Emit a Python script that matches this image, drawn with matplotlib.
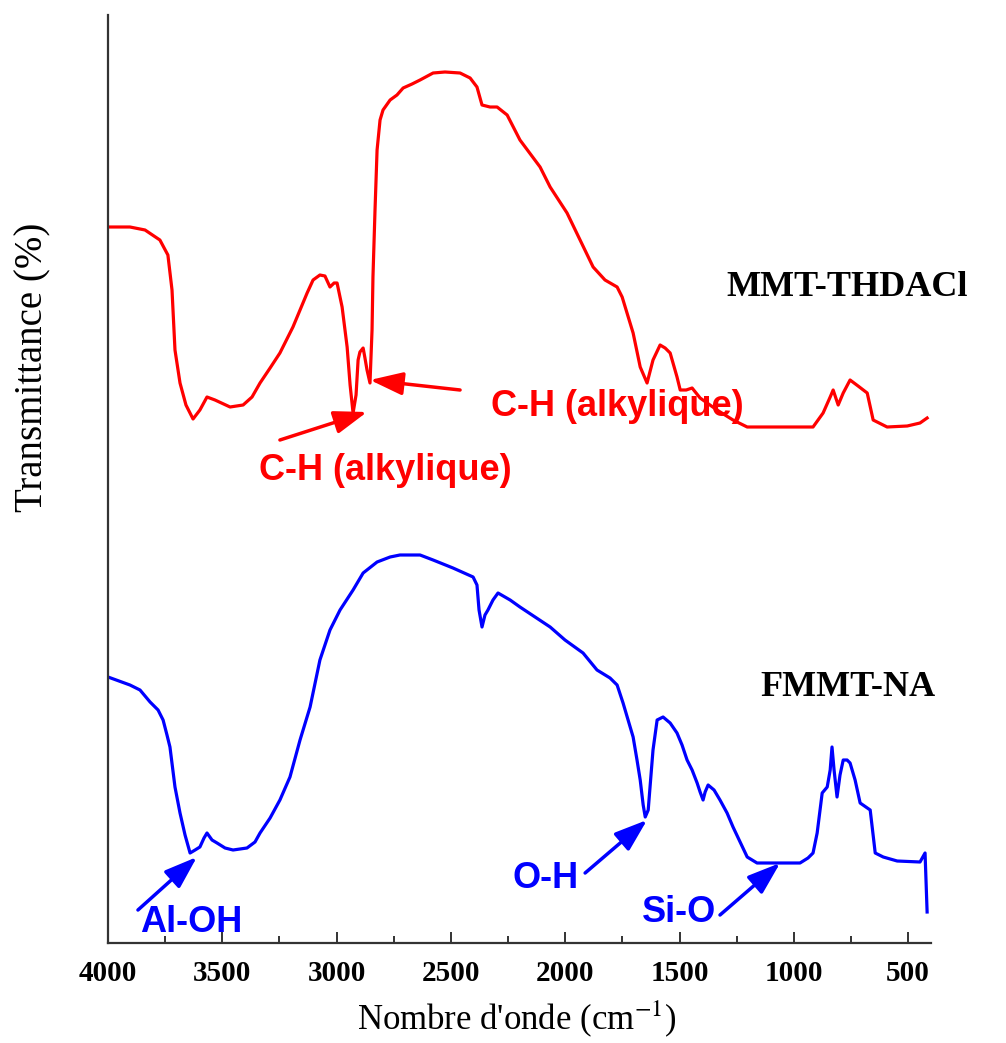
import matplotlib
matplotlib.use("Agg")
import matplotlib.pyplot as plt
from matplotlib.ticker import MultipleLocator

plt.rcParams['mathtext.fontset'] = 'stix'

# ---- data: MMT-THDACl (red) ----
wn_thdacl = [4000, 3904, 3838, 3773, 3738, 3720, 3707, 3685, 3659, 3628, 3598, 3567, 3532, 3466,
             3409, 3370, 3335, 3291, 3248, 3191, 3160, 3129, 3103, 3073, 3051, 3029, 3011, 2998,
             2976, 2954, 2941, 2928, 2915, 2906, 2898, 2884, 2876, 2867, 2854, 2845, 2841, 2832,
             2823, 2810, 2797, 2766, 2736, 2709, 2670, 2635, 2578, 2526, 2460, 2416, 2386, 2364,
             2329, 2298, 2254, 2198, 2110, 2066, 1992, 1935, 1878, 1826, 1773, 1751, 1703, 1672,
             1642, 1616, 1585, 1563, 1541, 1511, 1497, 1471, 1445, 1410, 1336, 1266, 1204, 1060,
             916, 872, 841, 828, 806, 784, 754, 719, 679, 653, 592, 504, 448, 417]
t_thdacl = [71.6, 71.6, 71.3, 70.3, 68.8, 65.3, 59.3, 56.0, 53.8, 52.4, 53.3, 54.6, 54.3, 53.6,
            53.8, 54.6, 56.0, 57.5, 59.0, 61.6, 63.3, 65.0, 66.3, 66.8, 66.7, 65.6, 66.0, 66.0,
            63.6, 59.6, 55.8, 53.0, 54.8, 58.3, 59.1, 59.5, 58.5, 57.3, 56.0, 61.3, 66.6, 73.3,
            79.3, 82.3, 83.3, 84.3, 84.8, 85.5, 85.9, 86.3, 87.0, 87.1, 87.0, 86.5, 85.6, 83.8,
            83.6, 83.6, 82.8, 80.3, 77.6, 75.6, 73.0, 70.3, 67.6, 66.3, 65.6, 64.6, 61.0, 57.6,
            56.0, 58.3, 59.8, 59.5, 59.0, 56.6, 55.3, 55.3, 55.5, 54.5, 53.3, 52.3, 51.6, 51.6,
            51.6, 53.0, 54.6, 55.3, 53.8, 55.0, 56.3, 55.7, 55.0, 52.3, 51.6, 51.7, 52.0, 52.5]

# ---- data: FMMT-NA (blue) ----
wn_na = [4000, 3904, 3860, 3816, 3781, 3759, 3742, 3729, 3707, 3685, 3663, 3641, 3619, 3598,
         3580, 3567, 3545, 3523, 3488, 3453, 3392, 3357, 3335, 3291, 3248, 3204, 3160, 3116,
         3073, 3029, 2985, 2928, 2884, 2823, 2766, 2723, 2635, 2578, 2491, 2403, 2386, 2377,
         2364, 2351, 2338, 2316, 2294, 2241, 2198, 2132, 2066, 2001, 1922, 1861, 1804, 1773,
         1747, 1725, 1703, 1686, 1672, 1659, 1650, 1637, 1629, 1616, 1598, 1572, 1541, 1511,
         1489, 1467, 1445, 1423, 1410, 1397, 1388, 1375, 1349, 1323, 1292, 1266, 1235, 1204,
         1161, 1060, 973, 938, 916, 898, 876, 854, 841, 833, 824, 811, 798, 784, 767, 754,
         732, 710, 666, 644, 609, 548, 448, 426, 417]
t_na = [26.6, 25.8, 25.3, 24.1, 23.3, 22.3, 20.8, 19.6, 15.6, 13.0, 10.8, 9.0, 9.3, 9.6,
        10.5, 11.0, 10.3, 10.0, 9.5, 9.3, 9.5, 10.1, 11.0, 12.5, 14.3, 16.6, 20.3, 23.6,
        28.3, 31.3, 33.3, 35.3, 37.0, 38.1, 38.6, 38.8, 38.8, 38.3, 37.5, 36.6, 35.8, 33.3,
        31.6, 32.8, 33.3, 34.3, 35.0, 34.3, 33.6, 32.6, 31.6, 30.3, 29.0, 27.3, 26.5, 25.8,
        24.0, 22.3, 20.6, 18.3, 16.3, 13.8, 12.6, 13.3, 15.6, 19.3, 22.3, 22.6, 22.0, 21.0,
        19.8, 18.3, 17.3, 16.0, 15.1, 14.3, 15.1, 15.8, 15.3, 14.3, 13.0, 11.6, 10.1, 8.6,
        8.0, 8.0, 8.0, 8.5, 9.0, 11.0, 15.0, 15.6, 17.3, 19.6, 17.3, 14.6, 16.8, 18.3, 18.3,
        18.0, 16.3, 14.0, 13.3, 9.0, 8.6, 8.2, 8.1, 9.0, 3.1]

series_names = ["MMT-THDACl", "FMMT-NA"]
series_label_pos = [(767, 65.6), (763, 25.5)]

# annotations: (text, text position (wn, T), arrow tail (wn, T), arrow tip (wn, T))
red_notes = [("C-H (alkylique)", (1773, 53.6), (2460, 55.3), (2854, 56.3)),
             ("C-H (alkylique)", (2788, 47.3), (3248, 50.3), (2867, 53.1))]
blue_notes = [("Al-OH", (3637, 2.0), (3869, 3.3), (3611, 8.6)),
              ("O-H", (2088, 6.5), (1913, 7.0), (1642, 12.3)),
              ("Si-O", (1502, 3.0), (1323, 2.8), (1060, 8.0))]

xticks = [4000, 3500, 3000, 2500, 2000, 1500, 1000, 500]

fig = plt.figure(figsize=(10.06, 10.43), dpi=100)
ax = fig.add_axes([108/1006, 1 - 943/1043, 823/1006, 928/1043])

red = "#ff0000"
blue = "#0000ff"
ax.plot(wn_thdacl, t_thdacl, color=red, lw=2.3)
ax.plot(wn_na, t_na, color=blue, lw=2.3)

ax.set_xlim(4000, 400)
ax.set_ylim(0, 92.8)

for s in ["top", "right"]:
    ax.spines[s].set_visible(False)
for s in ["left", "bottom"]:
    ax.spines[s].set_linewidth(1.6)
    ax.spines[s].set_color("#333333")

ax.set_yticks([])
ax.set_xticks(xticks)
ax.xaxis.set_minor_locator(MultipleLocator(250))
ax.tick_params(axis="x", which="major", direction="in", length=8, width=1.4, color="#333333", pad=12)
ax.tick_params(axis="x", which="minor", direction="in", length=5, width=1.4, color="#333333")
for lab in ax.get_xticklabels():
    lab.set_fontfamily("Liberation Serif")
    lab.set_fontweight("bold")
    lab.set_fontsize(21)

xl = ax.set_xlabel("Nombre d'onde (cm$^{-1}$)", fontfamily="Liberation Serif", fontsize=25)
xl.set_va("center")
ax.xaxis.set_label_coords(0.497, -0.081)
yl = ax.set_ylabel("Transmittance (%)", fontfamily="Liberation Serif", fontsize=28)
yl.set_va("center")
ax.yaxis.set_label_coords(-0.091, 0.62)

for name, (x, y) in zip(series_names, series_label_pos):
    ax.text(x, y, name, fontfamily="Liberation Serif", fontweight="bold", fontsize=26,
            ha="center", va="center", color="black")

def note(txt, tpos, tail, tip, col):
    ax.text(tpos[0], tpos[1], txt, color=col, fontfamily="Liberation Sans", fontweight="bold",
            fontsize=26, ha="center", va="center")
    ax.annotate("", xy=tip, xytext=tail,
                arrowprops=dict(arrowstyle="-|>,head_length=1.0,head_width=0.35", color=col,
                                lw=2.5, mutation_scale=20, shrinkA=0, shrinkB=0))

for txt, tpos, tail, tip in red_notes:
    note(txt, tpos, tail, tip, red)
for txt, tpos, tail, tip in blue_notes:
    note(txt, tpos, tail, tip, blue)

fig.savefig("out.png", dpi=100)
